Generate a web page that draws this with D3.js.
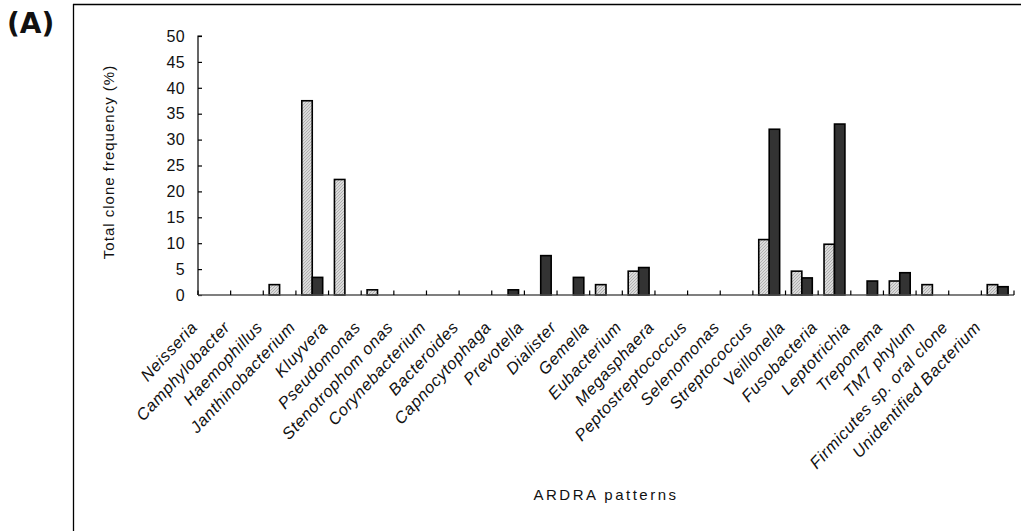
<!DOCTYPE html>
<html>
<head>
<meta charset="utf-8">
<script src="https://cdn.jsdelivr.net/npm/d3@7"></script>
<style>
  html, body { margin: 0; padding: 0; background: #fff; }
  svg { display: block; }
  text { font-family: "Liberation Sans", Arial, sans-serif; fill: #111; }
</style>
</head>
<body>
<svg id="chart" width="1021" height="531"></svg>
<script>
const categories = ["Neisseria", "Camphylobacter", "Haemophillus", "Janthinobacterium", "Kluyvera",
  "Pseudomonas", "Stenotrophom onas", "Corynebacterium", "Bacteroides", "Capnocytophaga",
  "Prevotella", "Dialister", "Gemella", "Eubacterium", "Megasphaera", "Peptostreptococcus",
  "Selenomonas", "Streptococcus", "Veillonella", "Fusobacteria", "Leptotrichia", "Treponema",
  "TM7 phylum", "Firmicutes sp. oral clone", "Unidentified Bacterium"];
const seriesLight = [0, 0, 2, 37.5, 22.3, 1, 0, 0, 0, 0, 0, 0, 2, 4.6, 0, 0, 0, 10.7, 4.6, 9.8, 0, 2.7, 2, 0, 2];
const seriesDark  = [0, 0, 0, 3.4, 0, 0, 0, 0, 0, 1, 7.6, 3.4, 0, 5.3, 0, 0, 0, 32, 3.3, 33, 2.7, 4.3, 0, 0, 1.6];
const seriesKeys = ["light", "dark"];
const yTicks = [0, 5, 10, 15, 20, 25, 30, 35, 40, 45, 50];

const svg = d3.select("#chart");

// patterns
const defs = svg.append("defs");
const pat = defs.append("pattern").attr("id", "hatch").attr("patternUnits", "userSpaceOnUse")
  .attr("width", 3).attr("height", 3);
pat.append("rect").attr("width", 3).attr("height", 3).attr("fill", "#dadada");
pat.append("path").attr("d", "M0,3 L3,0 M-1,1 L1,-1 M2,4 L4,2").attr("stroke", "#ababab").attr("stroke-width", 0.9);

// outer frame
svg.append("line").attr("x1", 73).attr("x2", 1021).attr("y1", 4.5).attr("y2", 4.5)
  .attr("stroke", "#000").attr("stroke-width", 1.3);
svg.append("line").attr("x1", 73.5).attr("x2", 73.5).attr("y1", 4).attr("y2", 531)
  .attr("stroke", "#000").attr("stroke-width", 1.3);

// panel label
svg.append("text").attr("x", 7).attr("y", 33).attr("font-size", 28).attr("font-weight", "bold")
  .style("font-family", "'DejaVu Sans', sans-serif").text("(A)");

const x0 = 198, x1r = 1014, yTop = 36, yBot = 295;
const x = d3.scaleBand().domain(categories).range([x0, x1r]).paddingInner(0.36).paddingOuter(0.18);
const xs = d3.scaleBand().domain(seriesKeys).range([0, x.bandwidth()]);
const y = d3.scaleLinear().domain([0, 50]).range([yBot, yTop]);

// bars
const data = categories.map((c, i) => ({ c, light: seriesLight[i], dark: seriesDark[i] }));
const g = svg.append("g");
data.forEach(d => {
  seriesKeys.forEach(k => {
    if (d[k] > 0) {
      g.append("rect")
        .attr("x", x(d.c) + xs(k))
        .attr("y", y(d[k]))
        .attr("width", xs.bandwidth())
        .attr("height", yBot - y(d[k]))
        .attr("fill", k === "light" ? "url(#hatch)" : "#333")
        .attr("stroke", "#000").attr("stroke-width", 1.6);
    }
  });
});

// y axis
const yAxis = svg.append("g").attr("transform", `translate(${x0},0)`)
  .call(d3.axisRight(y).tickValues(yTicks).tickSize(4).tickFormat(""));
yAxis.select(".domain").attr("stroke", "#000").attr("stroke-width", 1.2).attr("d", `M4,${yTop}H0V${yBot}`);
yAxis.selectAll(".tick line").attr("stroke", "#000").attr("stroke-width", 1.2);
svg.append("g").selectAll("text").data(yTicks).join("text")
  .attr("x", 185).attr("y", d => y(d)).attr("dy", "0.36em")
  .attr("text-anchor", "end").attr("font-size", 16).style("letter-spacing", "0.3px").text(d => d);

// x axis
const bounds = categories.map(c => x(c) - x.step() * x.paddingOuter()).concat([x1r]);
const xa = svg.append("g");
xa.append("line").attr("x1", x0).attr("x2", x1r).attr("y1", yBot).attr("y2", yBot)
  .attr("stroke", "#555").attr("stroke-width", 1.6);
xa.selectAll("line.tk").data(bounds).join("line").attr("class", "tk")
  .attr("x1", d => d).attr("x2", d => d).attr("y1", yBot).attr("y2", yBot - 4.5)
  .attr("stroke", "#000").attr("stroke-width", 1.2);

// category labels
svg.append("g").selectAll("text").data(categories).join("text")
  .attr("transform", d => `translate(${x(d) + x.bandwidth() / 2 - 16},${yBot + 33}) rotate(-47)`)
  .attr("text-anchor", "end").attr("font-size", 16.5).attr("font-style", "italic")
  .style("letter-spacing", "0.6px").text(d => d);

// axis titles
svg.append("text").attr("transform", `translate(109,162) rotate(-90)`)
  .attr("text-anchor", "middle").attr("dy", "0.35em").attr("font-size", 15)
  .style("letter-spacing", "1px").text("Total clone frequency (%)");
svg.append("text").attr("x", 606).attr("y", 500).attr("text-anchor", "middle")
  .attr("font-size", 15).style("letter-spacing", "2.5px").text("ARDRA patterns");
</script>
</body>
</html>
